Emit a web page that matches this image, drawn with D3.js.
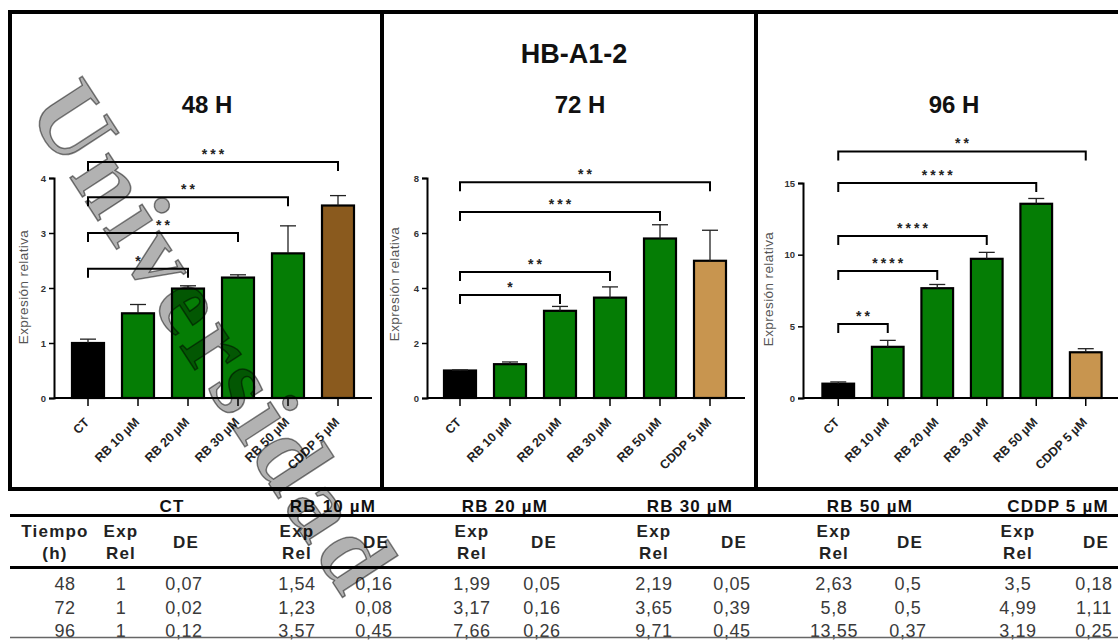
<!DOCTYPE html>
<html>
<head>
<meta charset="utf-8">
<script src="https://cdn.jsdelivr.net/npm/d3@7"></script>
<style>
  html, body { margin: 0; padding: 0; background: #fff; }
  svg { display: block; font-family: "Liberation Sans", Arial, sans-serif; }
</style>
</head>
<body>
<svg id="chart" width="1118" height="641"></svg>
<script>
// Treatments, in plotting order
const categories = ["CT", "RB 10 µM", "RB 20 µM", "RB 30 µM", "RB 50 µM", "CDDP 5 µM"];
const times = ["48", "72", "96"];

// Relative expression (mean) and standard deviation per time point
const expRel48 = [1, 1.54, 1.99, 2.19, 2.63, 3.5];
const de48     = [0.07, 0.16, 0.05, 0.05, 0.5, 0.18];
const expRel72 = [1, 1.23, 3.17, 3.65, 5.8, 4.99];
const de72     = [0.02, 0.08, 0.16, 0.39, 0.5, 1.11];
const expRel96 = [1, 3.57, 7.66, 9.71, 13.55, 3.19];
const de96     = [0.12, 0.45, 0.26, 0.45, 0.37, 0.25];

// Y axis ticks per panel
const ticks48 = [0, 1, 2, 3, 4];
const ticks72 = [0, 2, 4, 6, 8];
const ticks96 = [0, 5, 10, 15];

// Significance comparisons against CT: target treatment index, stars, bracket level (data units)
const sigTarget48 = [2, 3, 4, 5];
const sigStars48  = ["*", "**", "**", "***"];
const sigLevel48  = [2.35, 3.0, 3.65, 4.29];
const sigTarget72 = [2, 3, 4, 5];
const sigStars72  = ["*", "**", "***", "**"];
const sigLevel72  = [3.75, 4.58, 6.76, 7.85];
const sigTarget96 = [1, 2, 3, 4, 5];
const sigStars96  = ["**", "****", "****", "****", "**"];
const sigLevel96  = [5.16, 8.86, 11.3, 15.0, 17.2];

const panelTitles = ["48 H", "72 H", "96 H"];
const mainTitle = "HB-A1-2";
const yAxisTitle = "Expresión relativa";

// Table headings
const tableHeadTime = ["Tiempo", "(h)"];
const tableHeadExp = ["Exp", "Rel"];
const tableHeadDE = "DE";

const GREEN = "#057d05";
const barFill = [
  ["#000000", GREEN, GREEN, GREEN, GREEN, "#8a5a1e"],
  ["#000000", GREEN, GREEN, GREEN, GREEN, "#c8954f"],
  ["#000000", GREEN, GREEN, GREEN, GREEN, "#c8954f"]
];

const svg = d3.select("#chart");

// Layout of each panel
const panels = [
  { means: expRel48, sds: de48, ticks: ticks48, yMax: 4,  yTop: 178, axisX: 54,  bandRange: [63, 363],       axisEnd: 372,  yLabelX: 28,  yLabelY: 287, titleX: 207, sigT: sigTarget48, sigS: sigStars48, sigL: sigLevel48 },
  { means: expRel72, sds: de72, ticks: ticks72, yMax: 8,  yTop: 178, axisX: 427, bandRange: [435, 735],      axisEnd: 745,  yLabelX: 399, yLabelY: 284, titleX: 580, sigT: sigTarget72, sigS: sigStars72, sigL: sigLevel72 },
  { means: expRel96, sds: de96, ticks: ticks96, yMax: 15, yTop: 183, axisX: 803, bandRange: [813.5, 1110.5], axisEnd: 1118, yLabelX: 773, yLabelY: 289, titleX: 954, sigT: sigTarget96, sigS: sigStars96, sigL: sigLevel96 }
];
const yBase = 398;

panels.forEach((p, pi) => {
  const g = svg.append("g");
  const x = d3.scaleBand().domain(categories).range(p.bandRange).paddingInner(0.36).paddingOuter(0.18);
  const y = d3.scaleLinear().domain([0, p.yMax]).range([yBase, p.yTop]);

  // Bars
  g.selectAll("rect.bar").data(categories).join("rect")
    .attr("x", d => x(d))
    .attr("y", (d, i) => y(p.means[i]))
    .attr("width", x.bandwidth())
    .attr("height", (d, i) => yBase - y(p.means[i]))
    .attr("fill", (d, i) => barFill[pi][i])
    .attr("stroke", "#000")
    .attr("stroke-width", 2.2);

  // Upper error bars
  const eb = g.selectAll("g.err").data(categories).join("g").attr("class", "err");
  eb.append("line")
    .attr("x1", d => x(d) + x.bandwidth() / 2).attr("x2", d => x(d) + x.bandwidth() / 2)
    .attr("y1", (d, i) => y(p.means[i])).attr("y2", (d, i) => y(p.means[i] + p.sds[i]))
    .attr("stroke", "#222").attr("stroke-width", 1.3);
  eb.append("line")
    .attr("x1", d => x(d) + x.bandwidth() / 2 - 8).attr("x2", d => x(d) + x.bandwidth() / 2 + 8)
    .attr("y1", (d, i) => y(p.means[i] + p.sds[i])).attr("y2", (d, i) => y(p.means[i] + p.sds[i]))
    .attr("stroke", "#222").attr("stroke-width", 1.3);

  // Y axis
  const yAxis = g.append("g").attr("transform", `translate(${p.axisX},0)`)
    .call(d3.axisLeft(y).tickValues(p.ticks).tickSize(5).tickPadding(3).tickFormat(d3.format("d")));
  yAxis.select(".domain").attr("stroke", "#000").attr("stroke-width", 2);
  yAxis.selectAll(".tick line").attr("stroke", "#000").attr("stroke-width", 1.5);
  yAxis.selectAll(".tick text").attr("font-size", 9.5).attr("fill", "#333").attr("font-weight", "bold");

  // X axis
  const xAxis = g.append("g").attr("transform", `translate(0,${yBase})`)
    .call(d3.axisBottom(x).tickSize(8).tickSizeOuter(0).tickPadding(2));
  xAxis.select(".domain").attr("d", `M${p.axisX},0H${p.axisEnd}`).attr("stroke", "#000").attr("stroke-width", 2);
  xAxis.selectAll(".tick line").attr("stroke", "#000").attr("stroke-width", 1.5);
  xAxis.selectAll(".tick text")
    .attr("font-size", 12.5).attr("font-weight", "bold").attr("fill", "#222")
    .attr("text-anchor", "end")
    .attr("transform", "translate(2,25) rotate(-45)")
    .attr("dy", 0).attr("y", 0).attr("x", 0);

  // Y axis title
  g.append("text")
    .attr("transform", `translate(${p.yLabelX},${p.yLabelY}) rotate(-90)`)
    .attr("text-anchor", "middle")
    .attr("font-size", 13.5).attr("fill", "#555").attr("letter-spacing", 0.4)
    .text(yAxisTitle);

  // Panel title
  g.append("text")
    .attr("x", p.titleX).attr("y", 113)
    .attr("text-anchor", "middle")
    .attr("font-size", 24).attr("font-weight", "bold").attr("fill", "#111")
    .text(panelTitles[pi]);

  // Significance brackets (CT vs treatment)
  const cx = d => x(d) + x.bandwidth() / 2;
  p.sigT.forEach((t, k) => {
    const yy = y(p.sigL[k]);
    const x1 = cx(categories[0]), x2 = cx(categories[t]);
    g.append("path")
      .attr("d", `M${x1},${yy + 9}V${yy}H${x2}V${yy + 9}`)
      .attr("fill", "none").attr("stroke", "#000").attr("stroke-width", 2);
    g.append("text")
      .attr("x", (x1 + x2) / 2 + 1.5).attr("y", yy - 3)
      .attr("text-anchor", "middle")
      .attr("font-size", 14).attr("font-weight", "bold").attr("fill", "#222")
      .attr("letter-spacing", 3)
      .text(p.sigS[k]);
  });
});

// Main title
svg.append("text")
  .attr("x", 574).attr("y", 63)
  .attr("text-anchor", "middle")
  .attr("font-size", 27).attr("font-weight", "bold").attr("fill", "#111")
  .text(mainTitle);

// Panel frame
const frame = svg.append("g").attr("stroke", "#000").attr("stroke-width", 4).attr("fill", "none");
frame.append("path").attr("d", "M10,490V12H1118");
frame.append("path").attr("d", "M382,12V490");
frame.append("path").attr("d", "M756,12V490");
frame.append("path").attr("d", "M8,489H1118");

// Summary table
const table = svg.append("g");
const groupCenters = [172, 333, 505, 690, 870, 1058];
const expCols = [121, 297, 472, 654, 834, 1018];
const deCols  = [186, 376, 544, 734, 910, 1096];
const timeCol = 55;
const rowBaselines = [590, 613.5, 637];
const fmt = v => String(v).replace(".", ",");

table.selectAll("text.grp").data(categories).join("text")
  .attr("x", (d, i) => groupCenters[i]).attr("y", 512)
  .attr("text-anchor", "middle").attr("font-size", 17).attr("font-weight", "bold").attr("fill", "#111")
  .attr("letter-spacing", 1.2)
  .text(d => d);

table.append("line").attr("x1", 10).attr("x2", 1118).attr("y1", 515.5).attr("y2", 515.5)
  .attr("stroke", "#000").attr("stroke-width", 3);
table.append("line").attr("x1", 10).attr("x2", 1118).attr("y1", 567.5).attr("y2", 567.5)
  .attr("stroke", "#000").attr("stroke-width", 3);

const headStyle = sel => sel.attr("text-anchor", "middle").attr("font-size", 17).attr("font-weight", "bold")
  .attr("fill", "#222").attr("letter-spacing", 1.2);
tableHeadTime.forEach((t, k) => table.append("text").attr("x", timeCol).attr("y", 537 + k * 22).call(headStyle).text(t));
expCols.forEach(cx => tableHeadExp.forEach((t, k) => table.append("text").attr("x", cx).attr("y", 537 + k * 22).call(headStyle).text(t)));
deCols.forEach(cx => table.append("text").attr("x", cx).attr("y", 548).call(headStyle).text(tableHeadDE));

const meansByTime = [expRel48, expRel72, expRel96];
const sdsByTime = [de48, de72, de96];
times.forEach((t, r) => {
  const yy = rowBaselines[r];
  const cell = (xx, s) => table.append("text").attr("x", xx).attr("y", yy)
    .attr("text-anchor", "middle").attr("font-size", 18).attr("fill", "#3a3a3a")
    .attr("letter-spacing", 0.6).text(s);
  cell(timeCol + 10, t);
  meansByTime[r].forEach((v, i) => cell(expCols[i], fmt(v)));
  sdsByTime[r].forEach((v, i) => cell(deCols[i] - 2, fmt(v)));
});
table.append("line").attr("x1", 10).attr("x2", 1118).attr("y1", 637.5).attr("y2", 637.5)
  .attr("stroke", "#666").attr("stroke-width", 1.5);

// Repository watermark across the figure
svg.append("text")
  .attr("transform", "translate(26,110) rotate(57)")
  .attr("font-family", "Liberation Serif, Times New Roman, serif")
  .attr("font-weight", "bold")
  .attr("font-size", 100)
  .attr("letter-spacing", 6)
  .attr("fill", "#000").attr("fill-opacity", 0.3)
  .attr("stroke", "#000").attr("stroke-opacity", 0.5).attr("stroke-width", 1.5)
  .text("Universidad");
</script>
</body>
</html>
